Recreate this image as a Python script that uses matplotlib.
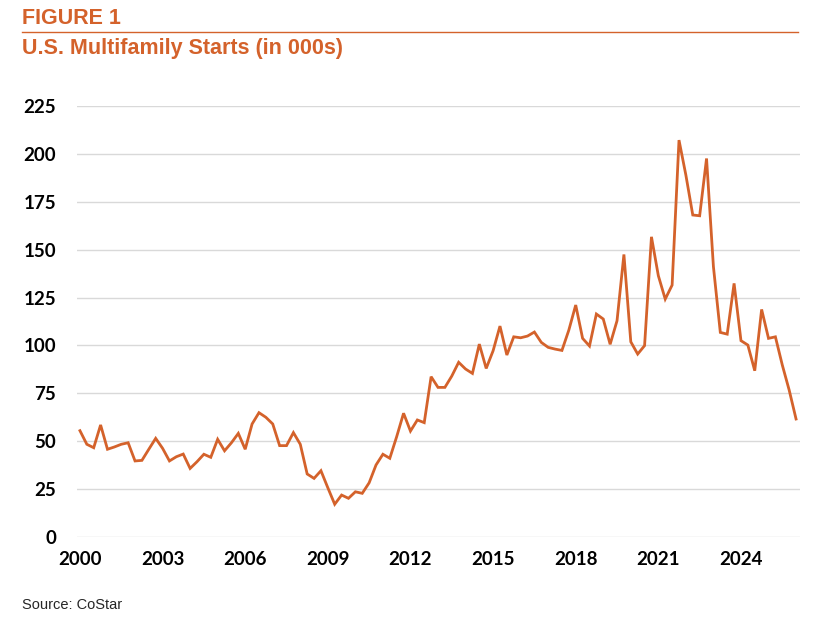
import matplotlib
matplotlib.use("Agg")
import matplotlib.pyplot as plt
from matplotlib.lines import Line2D

# Quarterly U.S. multifamily starts (000s), 2000Q1 .. 2026Q1
starts = [
    55.5, 48.4, 46.6, 58.5, 45.8, 47.0, 48.4, 49.2, 39.7, 40.0,
    45.8, 51.5, 46.3, 39.7, 41.9, 43.3, 35.8, 39.3, 43.2, 41.6,
    51.0, 45.0, 49.2, 54.1, 45.8, 59.0, 64.9, 62.5, 59.0, 47.7,
    47.7, 54.5, 48.4, 32.9, 30.6, 34.6, 25.7, 17.1, 21.9, 20.2,
    23.6, 22.8, 28.3, 37.6, 43.2, 41.1, 52.4, 64.6, 55.3, 61.1,
    59.7, 83.7, 78.1, 78.1, 84.0, 91.2, 87.7, 85.4, 100.7, 88.0,
    97.2, 110.1, 95.0, 104.5, 104.0, 104.9, 107.0, 101.6, 99.0, 98.1,
    97.4, 108.0, 121.1, 103.7, 99.7, 116.4, 113.8, 100.6, 112.9, 147.5,
    101.9, 95.5, 99.9, 156.7, 136.4, 124.2, 131.5, 207.2, 188.9, 168.1,
    167.7, 197.6, 141.1, 106.8, 105.9, 132.4, 102.5, 100.2, 86.8, 118.8,
    103.7, 104.5, 89.8, 76.7, 61.6,
]
year_labels = ["2000", "2003", "2006", "2009", "2012", "2015", "2018", "2021", "2024"]
label_step = 12  # quarters between labels
y_ticks = [0, 25, 50, 75, 100, 125, 150, 175, 200, 225]

orange = "#D4622B"
tick_font = ["Lato", "DejaVu Sans"]
title_font = ["Liberation Sans Narrow", "Liberation Sans", "DejaVu Sans"]

fig = plt.figure(figsize=(8.24, 6.2), dpi=100)
ax = fig.add_axes([76.5 / 824, 1 - 537 / 620, (799.5 - 76.5) / 824, (537 - 106) / 620])

x = list(range(len(starts)))
ax.plot(x, starts, color=orange, lw=2.0, solid_joinstyle="miter", zorder=3)

ax.set_xlim(-0.5, len(starts) - 0.5)
ax.set_ylim(0, 225)
ax.set_yticks(y_ticks)
ax.set_yticklabels([str(v) for v in y_ticks])
ax.set_xticks([i * label_step for i in range(len(year_labels))])
ax.set_xticklabels(year_labels)

for s in ax.spines.values():
    s.set_visible(False)
ax.tick_params(axis="both", length=0)
ax.tick_params(axis="y", pad=14.5)
ax.tick_params(axis="x", pad=10)
for lab in ax.get_xticklabels() + ax.get_yticklabels():
    lab.set_fontfamily(tick_font)
    lab.set_fontweight("bold")
    lab.set_fontsize(13.5)
    lab.set_color("black")
ax.grid(axis="y", color="#D9D9D9", lw=1.0)
ax.set_axisbelow(True)

fig.text(22 / 824, 1 - 18.5 / 620, "FIGURE 1", color=orange, fontsize=15.5,
         fontweight="bold", family=title_font, va="center", ha="left")
fig.add_artist(Line2D([22 / 824, 798 / 824], [1 - 32 / 620, 1 - 32 / 620],
                      color=orange, lw=1.0, transform=fig.transFigure))
fig.text(22 / 824, 1 - 48.5 / 620, "U.S. Multifamily Starts (in 000s)", color=orange,
         fontsize=15.5, fontweight="bold", family=title_font, va="center", ha="left")
fig.text(22 / 824, 1 - 605 / 620, "Source: CoStar", color="#262626", fontsize=10.5,
         family=["Liberation Sans", "DejaVu Sans"], va="center", ha="left")

fig.savefig("out.png", dpi=100)
